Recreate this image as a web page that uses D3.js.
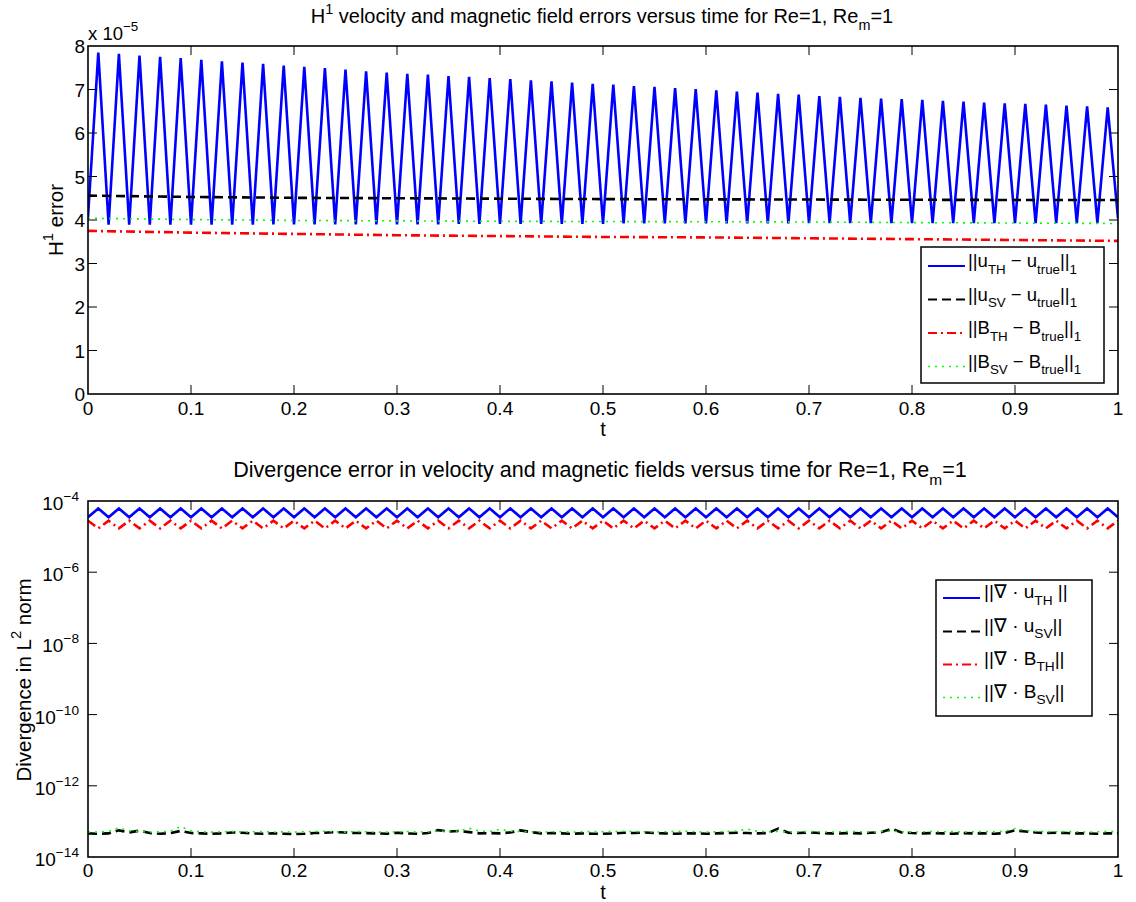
<!DOCTYPE html>
<html><head><meta charset="utf-8">
<script src="https://cdn.jsdelivr.net/npm/d3@7"></script>
<style>
body{margin:0;background:#fff}
text{font-family:"Liberation Sans",Arial,Helvetica,sans-serif;fill:#000}
</style>
</head><body>
<svg id="c" width="1136" height="902"></svg>
<script>
// ---------- DATA ----------
const tTicks = [0,0.1,0.2,0.3,0.4,0.5,0.6,0.7,0.8,0.9,1];
const tTickLabels = ["0","0.1","0.2","0.3","0.4","0.5","0.6","0.7","0.8","0.9","1"];
const topYTicks = [0,1,2,3,4,5,6,7,8];
const botYExponents = [-14,-12,-10,-8,-6,-4];

// top chart (units of 1e-5), ||u_TH - u_true||_1 : peaks at t=0.01,0.03,...,0.99
const uTHPeaks = [7.85,7.82,7.78,7.75,7.72,7.68,7.65,7.62,7.59,7.55,7.52,7.49,7.46,7.42,
  7.39,7.36,7.34,7.31,7.29,7.26,7.24,7.21,7.19,7.16,7.13,7.11,7.08,7.06,7.03,7.01,6.98,6.95,6.93,6.90,6.88,6.85,
  6.83,6.81,6.79,6.78,6.76,6.74,6.72,6.70,6.68,6.67,6.65,6.63,6.61,6.59];
// troughs at t=0,0.02,...,1.00
const uTHTroughs = [4.07,3.89,3.89,3.89,3.89,3.89,3.89,3.89,3.89,3.90,3.90,3.90,3.90,3.90,3.90,3.90,3.90,
  3.90,3.91,3.91,3.91,3.91,3.91,3.91,3.91,3.91,3.92,3.92,3.92,3.92,3.92,3.92,3.92,3.92,3.92,3.93,3.93,
  3.93,3.93,3.93,3.93,3.93,3.93,3.93,3.93,3.93,3.93,3.93,3.93,3.93,4.04];
// smooth series sampled at t=0,0.1,...,1
const uSVTop = [4.56,4.53,4.51,4.50,4.49,4.48,4.475,4.47,4.465,4.46,4.46];
const BTHTop = [3.75,3.71,3.68,3.65,3.63,3.61,3.60,3.58,3.56,3.54,3.52];
const BSVTop = [4.04,4.01,3.99,3.98,3.97,3.965,3.96,3.955,3.94,3.93,3.92];

// bottom chart (units of 1e-5) divergence of u_TH: peaks at odd hundredths, troughs at even
const divuTHPeaks = [6.2,6.2,6.2,6.2,6.2,6.2,6.2,6.2,6.2,6.2,6.2,6.2,6.2,6.2,6.2,6.2,6.2,6.2,6.2,6.2,6.2,6.2,6.2,6.2,6.2,
  6.2,6.2,6.2,6.2,6.2,6.2,6.2,6.2,6.2,6.2,6.2,6.2,6.2,6.2,6.2,6.2,6.2,6.2,6.2,6.2,6.2,6.2,6.2,6.2,6.2];
const divuTHTroughs = [3.5,3.5,3.5,3.5,3.5,3.5,3.5,3.5,3.5,3.5,3.5,3.5,3.5,3.5,3.5,3.5,3.5,3.5,3.5,3.5,3.5,3.5,3.5,3.5,3.5,3.5,
  3.5,3.5,3.5,3.5,3.5,3.5,3.5,3.5,3.5,3.5,3.5,3.5,3.5,3.5,3.5,3.5,3.5,3.5,3.5,3.5,3.5,3.5,3.5,3.5,3.5];
// divergence of B_TH: highs at even hundredths, lows at odd
const divBTHHighs = [2.8,2.8,2.8,2.8,2.8,2.8,2.8,2.8,2.8,2.8,2.8,2.8,2.8,2.8,2.8,2.8,2.8,2.8,2.8,2.8,2.8,2.8,2.8,2.8,2.8,2.8,
  2.8,2.8,2.8,2.8,2.8,2.8,2.8,2.8,2.8,2.8,2.8,2.8,2.8,2.8,2.8,2.8,2.8,2.8,2.8,2.8,2.8,2.8,2.8,2.8,2.8];
const divBTHLows = [1.7,1.7,1.7,1.7,1.7,1.7,1.7,1.7,1.7,1.7,1.7,1.7,1.7,1.7,1.7,1.7,1.7,1.7,1.7,1.7,1.7,1.7,1.7,1.7,1.7,
  1.7,1.7,1.7,1.7,1.7,1.7,1.7,1.7,1.7,1.7,1.7,1.7,1.7,1.7,1.7,1.7,1.7,1.7,1.7,1.7,1.7,1.7,1.7,1.7,1.7];
// divergence of u_SV and B_SV (units of 1e-14) at t=0,0.01,...,1
const divuSV = [4.6,4.5,4.6,5.6,4.9,5.5,4.7,4.5,4.7,5.4,
  4.7,4.6,4.5,4.6,4.9,4.8,4.6,4.5,4.6,4.5,
  4.4,4.5,4.7,4.8,5.0,4.9,4.7,4.7,4.6,4.5,
  4.8,4.6,4.5,4.7,5.7,5.2,5.4,5.0,4.6,4.7,
  4.6,4.9,5.6,5.0,4.6,4.7,4.6,4.5,4.6,4.5,
  4.5,4.6,4.8,4.7,4.9,4.7,4.6,4.5,4.6,4.6,
  4.5,4.6,4.7,4.8,4.7,4.6,4.7,6.3,4.8,4.7,
  4.9,4.7,4.6,4.6,4.7,4.6,4.8,5.0,6.2,4.9,
  4.7,4.6,4.7,4.6,4.5,4.7,4.6,4.6,4.5,4.7,
  5.6,5.2,4.9,4.7,4.8,4.7,4.6,4.6,4.5,4.6,4.6];
const divBSV = [5.0,5.0,5.3,6.6,5.4,5.2,5.0,5.1,5.3,7.2,
  5.4,5.1,5.0,5.1,5.2,5.0,5.1,5.2,5.0,5.1,
  5.0,5.1,5.2,5.3,5.1,5.0,5.2,5.1,5.0,5.0,
  5.1,5.2,5.0,5.1,5.3,5.2,5.4,6.4,5.3,5.2,
  6.0,5.3,5.2,5.1,5.0,5.1,5.2,5.0,5.1,5.2,
  5.1,5.2,5.3,5.2,5.1,5.0,5.1,5.2,5.3,5.1,
  5.0,5.1,5.2,5.4,6.1,5.3,5.1,5.2,5.0,5.1,
  5.2,5.1,5.0,5.1,5.2,5.1,5.0,5.2,5.3,5.1,
  5.0,5.1,5.2,5.1,5.2,5.0,5.1,5.2,5.1,5.3,
  6.3,5.6,5.3,5.2,5.1,5.2,5.1,5.0,5.1,5.2,5.1];

// ---------- HELPERS ----------
function interleave(evenVals, oddVals){
  const out=[];
  for(let i=0;i<=100;i++){
    out.push({t:i/100, v: i%2===0 ? evenVals[i/2] : oddVals[(i-1)/2]});
  }
  return out;
}
function decade(vals){ return vals.map((v,i)=>({t:i/10, v})); }
function hundredths(vals, scale){ return vals.map((v,i)=>({t:i/100, v:v*scale})); }

const svg = d3.select("#c");
function rich(g, x, y, parts, size, anchor){
  const t = g.append("text").attr("x",x).attr("y",y).style("font-size",size+"px")
    .attr("text-anchor",anchor||"start");
  let shift=0;
  parts.forEach(p=>{
    const target = p.sub ? size*0.36 : (p.sup ? -size*0.47 : 0);
    t.append("tspan").attr("dy", target-shift)
      .style("font-size",(p.sub||p.sup ? size*0.72 : size)+"px").text(p.s);
    shift=target;
  });
  return t;
}

const styles = {
  uTH:{stroke:"#0000ff",w:2.6,dash:null},
  uSV:{stroke:"#000000",w:2.6,dash:"9,5"},
  BTH:{stroke:"#ff0000",w:2.6,dash:"9,4,2,4"},
  BSV:{stroke:"#00ff00",w:1.6,dash:"2,5"}
};
const TICK_FS = 19;

const x = d3.scaleLinear().domain([0,1]).range([88,1118]);

function frame(g, yScale, top, bottom, yTicks, yLabelFn, labelOffset){
  g.append("rect").attr("x",x(0)).attr("y",top).attr("width",x(1)-x(0)).attr("height",bottom-top)
    .attr("fill","none").attr("stroke","#000").attr("stroke-width",1.6);
  tTicks.forEach((t,i)=>{
    const px=x(t);
    if(i>0 && i<tTicks.length-1){
      g.append("line").attr("x1",px).attr("x2",px).attr("y1",bottom).attr("y2",bottom-9).attr("stroke","#000");
      g.append("line").attr("x1",px).attr("x2",px).attr("y1",top).attr("y2",top+9).attr("stroke","#000");
    }
    g.append("text").attr("x",px).attr("y",bottom+labelOffset).attr("text-anchor","middle")
      .style("font-size",TICK_FS+"px").text(tTickLabels[i]);
  });
  yTicks.forEach((v,i)=>{
    const py=yScale(v);
    if(i>0 && i<yTicks.length-1){
      g.append("line").attr("x1",x(0)).attr("x2",x(0)+9).attr("y1",py).attr("y2",py).attr("stroke","#000");
      g.append("line").attr("x1",x(1)).attr("x2",x(1)-9).attr("y1",py).attr("y2",py).attr("stroke","#000");
    }
    yLabelFn(g, v, py);
  });
}

// ---------- TOP CHART ----------
const yTop = d3.scaleLinear().domain([0,8]).range([394,46]);
const gTop = svg.append("g");
svg.append("clipPath").attr("id","clipTop").append("rect")
  .attr("x",x(0)).attr("y",yTop(8)).attr("width",x(1)-x(0)).attr("height",yTop(0)-yTop(8));
const lineTop = d3.line().x(d=>x(d.t)).y(d=>yTop(d.v));
const topSeries = [
  {k:"uTH", data: interleave(uTHTroughs, uTHPeaks)},
  {k:"uSV", data: decade(uSVTop)},
  {k:"BTH", data: decade(BTHTop)},
  {k:"BSV", data: decade(BSVTop)}
];
const gTopPlot = gTop.append("g").attr("clip-path","url(#clipTop)");
topSeries.forEach(s=>{
  const st=styles[s.k];
  gTopPlot.append("path").attr("d",lineTop(s.data)).attr("fill","none")
    .attr("stroke",st.stroke).attr("stroke-width",st.w)
    .attr("stroke-dasharray",st.dash).attr("stroke-linejoin","miter");
});
frame(gTop, yTop, 46, 394, topYTicks, (g,v,py)=>{
  g.append("text").attr("x",85).attr("y",py+7).attr("text-anchor","end")
    .style("font-size",TICK_FS+"px").text(String(v));
}, 20.5);
rich(gTop, 88, 40, [{s:"x 10"},{s:"\u22125",sup:true}], 18.5);
rich(gTop, 602, 23, [{s:"H"},{s:"1",sup:true},{s:" velocity and magnetic field errors versus time for Re=1, Re"},{s:"m",sub:true},{s:"=1"}], 20, "middle");
gTop.append("text").attr("x",603).attr("y",436).attr("text-anchor","middle").style("font-size","20px").text("t");
{
  const gl = gTop.append("g").attr("transform","translate(63,220) rotate(-90)");
  rich(gl, 0, 0, [{s:"H"},{s:"1",sup:true},{s:" error"}], 20.5, "middle");
}
{
  const lg = gTop.append("g");
  lg.append("rect").attr("x",921).attr("y",247).attr("width",183).attr("height",136)
    .attr("fill","#fff").attr("stroke","#000").attr("stroke-width",1.5);
  const rows = [
    {k:"uTH", y:266, parts:[{s:"||u"},{s:"TH",sub:true},{s:" \u2212 u"},{s:"true",sub:true},{s:"||"},{s:"1",sub:true}]},
    {k:"uSV", y:299.5, parts:[{s:"||u"},{s:"SV",sub:true},{s:" \u2212 u"},{s:"true",sub:true},{s:"||"},{s:"1",sub:true}]},
    {k:"BTH", y:333, parts:[{s:"||B"},{s:"TH",sub:true},{s:" \u2212 B"},{s:"true",sub:true},{s:"||"},{s:"1",sub:true}]},
    {k:"BSV", y:366.5, parts:[{s:"||B"},{s:"SV",sub:true},{s:" \u2212 B"},{s:"true",sub:true},{s:"||"},{s:"1",sub:true}]}
  ];
  rows.forEach(r=>{
    const st=styles[r.k];
    lg.append("line").attr("x1",928).attr("x2",965).attr("y1",r.y).attr("y2",r.y)
      .attr("stroke",st.stroke).attr("stroke-width",Math.min(st.w,2.2)).attr("stroke-dasharray",st.dash);
    rich(lg, 968, r.y+1, r.parts, 18.5);
  });
}

// ---------- BOTTOM CHART ----------
const yBot = d3.scaleLog().domain([1e-14,1e-4]).range([857,501]);
const gBot = svg.append("g");
svg.append("clipPath").attr("id","clipBot").append("rect")
  .attr("x",x(0)).attr("y",501).attr("width",x(1)-x(0)).attr("height",356);
const lineBot = d3.line().x(d=>x(d.t)).y(d=>yBot(d.v));
const scale5 = d=>({t:d.t, v:d.v*1e-5});
const botSeries = [
  {k:"uTH", data: interleave(divuTHTroughs, divuTHPeaks).map(scale5)},
  {k:"uSV", data: hundredths(divuSV, 1e-14)},
  {k:"BTH", data: interleave(divBTHHighs, divBTHLows).map(scale5)},
  {k:"BSV", data: hundredths(divBSV, 1e-14)}
];
const gBotPlot = gBot.append("g").attr("clip-path","url(#clipBot)");
botSeries.forEach(s=>{
  const st=styles[s.k];
  gBotPlot.append("path").attr("d",lineBot(s.data)).attr("fill","none")
    .attr("stroke",st.stroke).attr("stroke-width",st.w)
    .attr("stroke-dasharray",st.dash).attr("stroke-linejoin","miter");
});
frame(gBot, yBot, 501, 857, botYExponents.map(e=>Math.pow(10,e)), (g,v,py)=>{
  const e = Math.round(Math.log10(v));
  rich(g, 79, py+9, [{s:"10"},{s:"\u2212"+Math.abs(e),sup:true}], TICK_FS, "end");
}, 20);
rich(gBot, 600, 477, [{s:"Divergence error in velocity and magnetic fields versus time for Re=1, Re"},{s:"m",sub:true},{s:"=1"}], 21.5, "middle");
gBot.append("text").attr("x",603).attr("y",899).attr("text-anchor","middle").style("font-size","20px").text("t");
{
  const gl = gBot.append("g").attr("transform","translate(31,680) rotate(-90)");
  rich(gl, 0, 0, [{s:"Divergence in L"},{s:"2",sup:true},{s:" norm"}], 20.5, "middle");
}
{
  const lg = gBot.append("g");
  lg.append("rect").attr("x",936).attr("y",580).attr("width",156).attr("height",136)
    .attr("fill","#fff").attr("stroke","#000").attr("stroke-width",1.5);
  const rows = [
    {k:"uTH", y:598, parts:[{s:"||\u2207 \u00b7 u"},{s:"TH",sub:true},{s:" ||"}]},
    {k:"uSV", y:631.5, parts:[{s:"||\u2207 \u00b7 u"},{s:"SV",sub:true},{s:"||"}]},
    {k:"BTH", y:664.5, parts:[{s:"||\u2207 \u00b7 B"},{s:"TH",sub:true},{s:"||"}]},
    {k:"BSV", y:697.5, parts:[{s:"||\u2207 \u00b7 B"},{s:"SV",sub:true},{s:"||"}]}
  ];
  rows.forEach(r=>{
    const st=styles[r.k];
    lg.append("line").attr("x1",943).attr("x2",980).attr("y1",r.y).attr("y2",r.y)
      .attr("stroke",st.stroke).attr("stroke-width",Math.min(st.w,2.2)).attr("stroke-dasharray",st.dash);
    rich(lg, 984, r.y, r.parts, 19);
  });
}
</script>
</body></html>
